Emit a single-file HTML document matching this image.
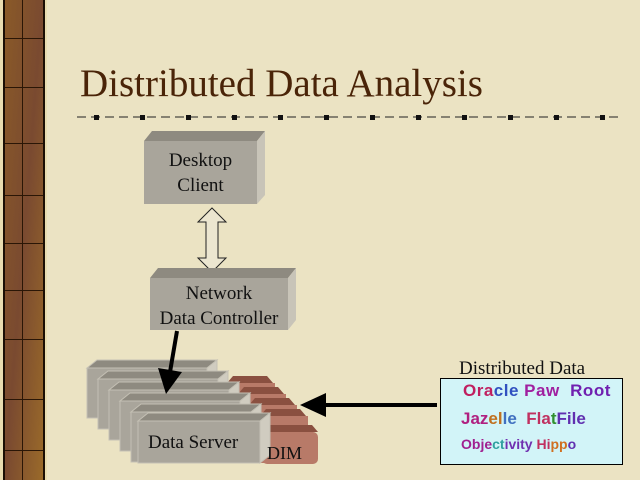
<!DOCTYPE html>
<html><head><meta charset="utf-8"><style>
html,body{margin:0;padding:0}
body{width:640px;height:480px;overflow:hidden;background:#ece4c4;position:relative;font-family:"Liberation Serif",serif}
.t{position:absolute;white-space:nowrap}
</style></head><body>
<svg width="640" height="480" style="position:absolute;left:0;top:0">
<defs>
<linearGradient id="br" x1="0" y1="0" x2="1" y2="1">
<stop offset="0" stop-color="#8a5a28"/><stop offset="0.5" stop-color="#7a4a30"/><stop offset="1" stop-color="#9a6a2a"/>
</linearGradient>
</defs>
<rect x="0" y="0" width="640" height="480" fill="#ebe3c3"/>
<rect x="0" y="0" width="47" height="480" fill="#e8dcb0"/>
<rect x="3" y="0" width="42" height="480" fill="#1a0e04"/>
<rect x="5" y="0" width="38" height="480" fill="url(#br)"/>
<g stroke="#2a1606" stroke-width="1">
<line x1="22.5" y1="0" x2="22.5" y2="480"/>
<line x1="5" y1="38.5" x2="43" y2="38.5"/><line x1="5" y1="87.5" x2="43" y2="87.5"/>
<line x1="5" y1="143.5" x2="43" y2="143.5"/><line x1="5" y1="195.5" x2="43" y2="195.5"/>
<line x1="5" y1="243.5" x2="43" y2="243.5"/><line x1="5" y1="290.5" x2="43" y2="290.5"/>
<line x1="5" y1="339.5" x2="43" y2="339.5"/><line x1="5" y1="399.5" x2="43" y2="399.5"/>
<line x1="5" y1="450.5" x2="43" y2="450.5"/>
</g>
<line x1="77" y1="117" x2="620" y2="117" stroke="#222" stroke-width="1" stroke-dasharray="9,5"/>
<g fill="#111">
<rect x="94" y="115" width="5" height="5"/><rect x="140" y="115" width="5" height="5"/><rect x="186" y="115" width="5" height="5"/>
<rect x="232" y="115" width="5" height="5"/><rect x="278" y="115" width="5" height="5"/><rect x="324" y="115" width="5" height="5"/>
<rect x="370" y="115" width="5" height="5"/><rect x="416" y="115" width="5" height="5"/><rect x="462" y="115" width="5" height="5"/>
<rect x="508" y="115" width="5" height="5"/><rect x="554" y="115" width="5" height="5"/><rect x="600" y="115" width="5" height="5"/>
</g>
<polygon points="144,141 152,131 265,131 257,141" fill="#8e8a80"/>
<polygon points="257,141 265,131 265,195 257,204" fill="#c8c4b8"/>
<rect x="144" y="141" width="113" height="63" fill="#a9a59b"/>
<polygon points="212,208 226,222 218,222 218,258 226,258 212,272 198,258 206,258 206,222 198,222" fill="#ece6d0" stroke="#222" stroke-width="1"/>
<polygon points="150,278 158,268 296,268 288,278" fill="#8e8a80"/>
<polygon points="288,278 296,268 296,320 288,330" fill="#c8c4b8"/>
<rect x="150" y="278" width="138" height="52" fill="#a9a59b"/>
<g>
<polygon points="227,383 233,376 267,376 273,383" fill="#8a5040"/><rect x="227" y="383" width="48" height="50" fill="#b87a68"/>
<polygon points="238,394 244,387 278,387 284,394" fill="#8a5040"/><rect x="238" y="394" width="48" height="50" fill="#b87a68"/>
<polygon points="249,405 255,398 289,398 295,405" fill="#8a5040"/><rect x="249" y="405" width="48" height="50" fill="#b87a68"/>
<polygon points="260,416 266,409 300,409 306,416" fill="#8a5040"/><rect x="260" y="416" width="48" height="47" fill="#b87a68"/>
<polygon points="262,432 268,425 312,425 318,432" fill="#8a5040"/><rect x="262" y="432" width="56" height="32" rx="5" fill="#b87a68"/>
</g>
<g stroke="#c4c0b4" stroke-width="1">
<polygon points="87,368 97,360 217,360 207,368" fill="#8e8a80"/><polygon points="207,368 217,360 217,410 207,418" fill="#d0ccc0"/><rect x="87" y="368" width="120" height="50" fill="#a9a59b"/>
<polygon points="98,379 108,371 228,371 218,379" fill="#8e8a80"/><polygon points="218,379 228,371 228,421 218,429" fill="#d0ccc0"/><rect x="98" y="379" width="120" height="50" fill="#a9a59b"/>
<polygon points="109,390 119,382 239,382 229,390" fill="#8e8a80"/><polygon points="229,390 239,382 239,432 229,440" fill="#d0ccc0"/><rect x="109" y="390" width="120" height="50" fill="#a9a59b"/>
<polygon points="120,401 130,393 250,393 240,401" fill="#8e8a80"/><polygon points="240,401 250,393 250,443 240,451" fill="#d0ccc0"/><rect x="120" y="401" width="120" height="50" fill="#a9a59b"/>
<polygon points="131,412 141,404 261,404 251,412" fill="#8e8a80"/><polygon points="251,412 261,404 261,454 251,462" fill="#d0ccc0"/><rect x="131" y="412" width="120" height="50" fill="#a9a59b"/>
<polygon points="138,421 148,413 270,413 260,421" fill="#8e8a80"/><polygon points="260,421 270,413 270,455 260,463" fill="#d0ccc0"/><rect x="138" y="421" width="122" height="42" fill="#a9a59b"/>
</g>
<line x1="177" y1="331" x2="170" y2="372" stroke="#000" stroke-width="4"/>
<polygon points="158,368 182,372 166,394" fill="#000"/>
<rect x="440.5" y="378.5" width="182" height="86" fill="#d2f4f8" stroke="#000" stroke-width="1"/>
<line x1="437" y1="405" x2="322" y2="405" stroke="#000" stroke-width="4"/>
<polygon points="300,405 326,393 326,417" fill="#000"/>
</svg>
<div class="t" style="left:80px;top:61px;font-size:39px;color:#4a2408">Distributed Data Analysis</div>
<div class="t" style="left:144px;top:148px;width:113px;text-align:center;font-size:19px;line-height:25px;color:#111">Desktop<br>Client</div>
<div class="t" style="left:146px;top:281px;width:146px;text-align:center;font-size:19px;line-height:25px;color:#111">Network<br>Data Controller</div>
<div class="t" style="left:148px;top:432px;font-size:19px;color:#111">Data Server</div>
<div class="t" style="left:267px;top:443px;font-size:18px;color:#111">DIM</div>
<div class="t" style="left:459px;top:358px;font-size:19px;color:#111">Distributed Data</div>
<div class="t" style="left:463px;top:381px;font-family:'Liberation Sans',sans-serif;font-weight:bold;font-size:17px;color:#b02090;letter-spacing:0.5px"><span style="color:#c02060">Ora</span><span style="color:#3050c0">cle</span> <span style="color:#a020a0">Paw</span> &nbsp;<span style="color:#7020b0">Root</span></div>
<div class="t" style="left:461px;top:409px;font-family:'Liberation Sans',sans-serif;font-weight:bold;font-size:17px;color:#a02090"><span style="color:#b02080">Jaz</span><span style="color:#c07020">el</span><span style="color:#4070c0">le</span> &nbsp;<span style="color:#c03060">Fla</span><span style="color:#309030">t</span><span style="color:#6030b0">File</span></div>
<div class="t" style="left:461px;top:436px;font-family:'Liberation Sans',sans-serif;font-weight:bold;font-size:14px;color:#8020a0"><span style="color:#a02090">Obje</span><span style="color:#30a0a0">ct</span><span style="color:#7030b0">ivity</span> <span style="color:#c03060">Hi</span><span style="color:#d07020">pp</span><span style="color:#6030b0">o</span></div>
</body></html>
